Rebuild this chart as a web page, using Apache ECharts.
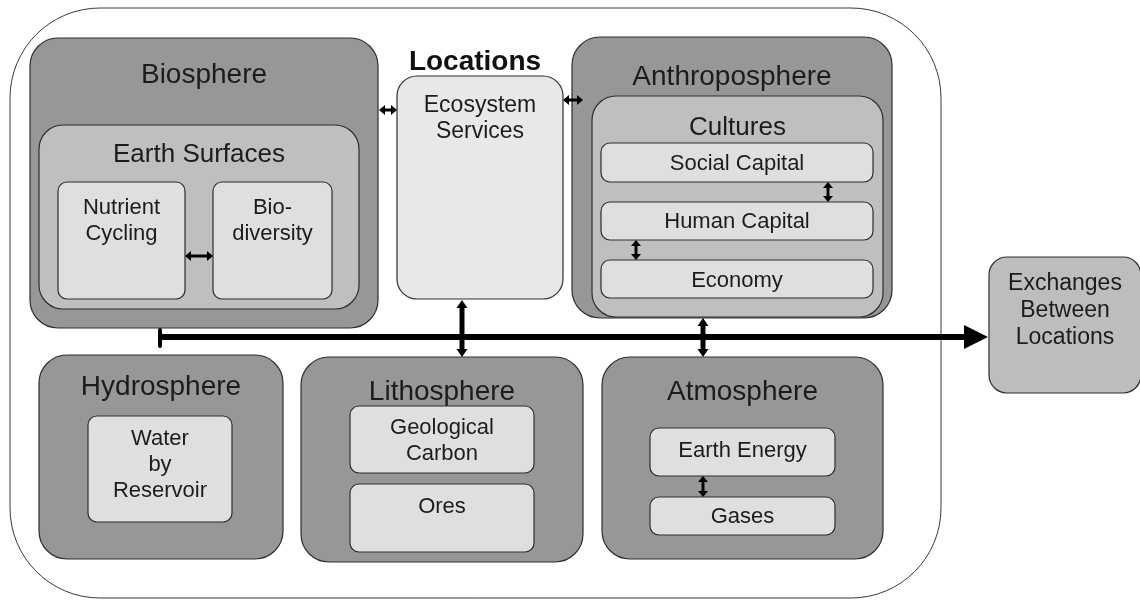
<!DOCTYPE html>
<html>
<head>
<meta charset="utf-8">
<script src="https://cdn.jsdelivr.net/npm/echarts@6/dist/echarts.min.js"></script>
<style>html,body{margin:0;padding:0;background:#fff}#c{width:1140px;height:600px}</style>
</head>
<body>
<div id="c"></div>
<script>
// ---- Diagram content (extents in diagram units: [x0, y0, x1, y1]) ----
const frameBox = [[10, 8, 941, 598]];

const sphereNames = ['Biosphere', 'Anthroposphere', 'Hydrosphere', 'Lithosphere', 'Atmosphere'];
const sphereBoxes = [[30, 38, 378, 328], [572, 37, 892, 318], [39, 355, 283, 559], [301, 357, 583, 562], [602, 357, 883, 559]];
const sphereTitleY = [75, 77, 387, 392, 392];

const subsystemNames = ['Earth Surfaces', 'Cultures'];
const subsystemBoxes = [[39, 125, 359, 309], [592, 96, 883, 317]];
const subsystemTitleY = [155, 128];

const componentNames = ['Nutrient\nCycling', 'Bio-\ndiversity', 'Social Capital', 'Human Capital', 'Economy',
  'Water\nby\nReservoir', 'Geological\nCarbon', 'Ores', 'Earth Energy', 'Gases'];
const componentBoxes = [[58, 182, 185, 299], [213, 182, 332, 299], [601, 143, 873, 182], [601, 202, 873, 240], [601, 260, 873, 298],
  [88, 416, 232, 522], [350, 406, 534, 473], [350, 484, 534, 552], [650, 428, 835, 476], [650, 497, 835, 535]];
const componentTextY = [208, 208, 164, 222, 281, 439, 428, 507, 451, 517];

const locationNames = ['Ecosystem\nServices', 'Exchanges\nBetween\nLocations'];
const locationBoxes = [[397, 76, 563, 299], [989, 257, 1141, 393]];
const locationTextY = [106, 284];

const headingNames = ['Locations'];
const headingPoints = [[475, 62]];

const linkArrows = [[185, 256, 213, 256], [379, 110, 397, 110], [563, 100, 583, 100],
  [828, 182, 828, 202], [636, 240, 636, 260], [703, 476, 703, 497]];
const busLinks = [[462, 300, 462, 357], [703, 318, 703, 357]];
const busLine = [[160, 337, 988, 337]];
const busStub = [[160, 330, 160, 346]];

// ---- Rendering helpers ----
const FONT = '"Liberation Sans", Arial, sans-serif';
const STROKE = '#2e2e2e';
const TEXT = '#1c1c1c';

function withExtra(boxes, extra) {
  return boxes.map((b, i) => extra ? b.concat([extra[i]]) : b.slice());
}

function boxSeries(name, boxes, labels, labelY, o) {
  return {
    type: 'custom', name: name, z: o.z, silent: true,
    coordinateSystem: 'cartesian2d',
    data: withExtra(boxes, labelY),
    renderItem: function (params, api) {
      const i = params.dataIndex;
      const a = api.coord([api.value(0), api.value(1)]);
      const b = api.coord([api.value(2), api.value(3)]);
      const children = [{
        type: 'rect',
        shape: { x: a[0], y: a[1], width: b[0] - a[0], height: b[1] - a[1], r: o.r },
        style: { fill: o.fill, stroke: o.stroke || STROKE, lineWidth: o.lw || 1.2 }
      }];
      if (labels) {
        const cx = (api.value(0) + api.value(2)) / 2;
        const t = api.coord([cx, api.value(4)]);
        children.push({
          type: 'text',
          style: {
            text: labels[i], x: t[0], y: t[1] - o.lh / 2,
            font: o.font, fill: TEXT, lineHeight: o.lh,
            textAlign: 'center', align: 'center', textVerticalAlign: 'top', verticalAlign: 'top'
          }
        });
      }
      return { type: 'group', children: children };
    }
  };
}

function arrowSeries(name, lines, o) {
  return {
    type: 'custom', name: name, z: o.z, silent: true,
    coordinateSystem: 'cartesian2d',
    data: lines,
    renderItem: function (params, api) {
      const p1 = api.coord([api.value(0), api.value(1)]);
      const p2 = api.coord([api.value(2), api.value(3)]);
      const dx = p2[0] - p1[0], dy = p2[1] - p1[1];
      const len = Math.sqrt(dx * dx + dy * dy) || 1;
      const ux = dx / len, uy = dy / len, nx = -uy, ny = ux;
      const s = o.start ? o.hl : 0, e = o.end ? o.hl : 0;
      const children = [{
        type: 'line',
        shape: { x1: p1[0] + ux * s * 0.6, y1: p1[1] + uy * s * 0.6, x2: p2[0] - ux * e * 0.6, y2: p2[1] - uy * e * 0.6 },
        style: { stroke: '#000', lineWidth: o.lw, lineCap: o.cap || 'butt' }
      }];
      function head(tip, dirx, diry) {
        const bx = tip[0] - dirx * o.hl, by = tip[1] - diry * o.hl;
        return {
          type: 'polygon',
          shape: { points: [[tip[0], tip[1]], [bx + nx * o.hw, by + ny * o.hw], [bx - nx * o.hw, by - ny * o.hw]] },
          style: { fill: '#000' }
        };
      }
      if (o.end) children.push(head(p2, ux, uy));
      if (o.start) children.push(head(p1, -ux, -uy));
      return { type: 'group', children: children };
    }
  };
}

const chart = echarts.init(document.getElementById('c'), null, { renderer: 'canvas' });
chart.setOption({
  animation: false,
  backgroundColor: '#ffffff',
  grid: { left: 0, right: 0, top: 0, bottom: 0 },
  xAxis: { type: 'value', min: 0, max: 1140, show: false },
  yAxis: { type: 'value', min: 0, max: 600, inverse: true, show: false },
  series: [
    boxSeries('frame', frameBox, null, null, { z: 1, r: 90, fill: '#ffffff', stroke: '#3a3a3a', lw: 1 }),
    boxSeries('spheres', sphereBoxes, sphereNames, sphereTitleY, { z: 2, r: 28, fill: '#979797', font: '28px ' + FONT, lh: 30 }),
    boxSeries('subsystems', subsystemBoxes, subsystemNames, subsystemTitleY, { z: 3, r: 24, fill: '#bfbfbf', font: '26px ' + FONT, lh: 30 }),
    boxSeries('components', componentBoxes, componentNames, componentTextY, { z: 4, r: 9, fill: '#dfdfdf', font: '22px ' + FONT, lh: 26 }),
    boxSeries('locations', locationBoxes.slice(0, 1), locationNames.slice(0, 1), locationTextY.slice(0, 1), { z: 4, r: 20, fill: '#e8e8e8', font: '23px ' + FONT, lh: 26 }),
    boxSeries('exchanges', locationBoxes.slice(1), locationNames.slice(1), locationTextY.slice(1), { z: 4, r: 18, fill: '#bdbdbd', font: '23px ' + FONT, lh: 27 }),
    {
      type: 'custom', name: 'heading', z: 5, silent: true, coordinateSystem: 'cartesian2d',
      data: headingPoints,
      renderItem: function (params, api) {
        const p = api.coord([api.value(0), api.value(1)]);
        return {
          type: 'text',
          style: {
            text: headingNames[params.dataIndex], x: p[0], y: p[1],
            font: 'bold 28px ' + FONT, fill: '#111',
            textAlign: 'center', align: 'center', textVerticalAlign: 'middle', verticalAlign: 'middle'
          }
        };
      }
    },
    arrowSeries('links', linkArrows, { z: 6, lw: 3, hl: 6, hw: 5, start: true, end: true }),
    arrowSeries('busLinks', busLinks, { z: 6, lw: 5, hl: 8, hw: 5.5, start: true, end: true }),
    arrowSeries('bus', busLine, { z: 6, lw: 6, hl: 24, hw: 12, start: false, end: true }),
    arrowSeries('stub', busStub, { z: 6, lw: 4, hl: 0, hw: 0, start: false, end: false, cap: 'round' })
  ]
});
</script>
</body>
</html>
